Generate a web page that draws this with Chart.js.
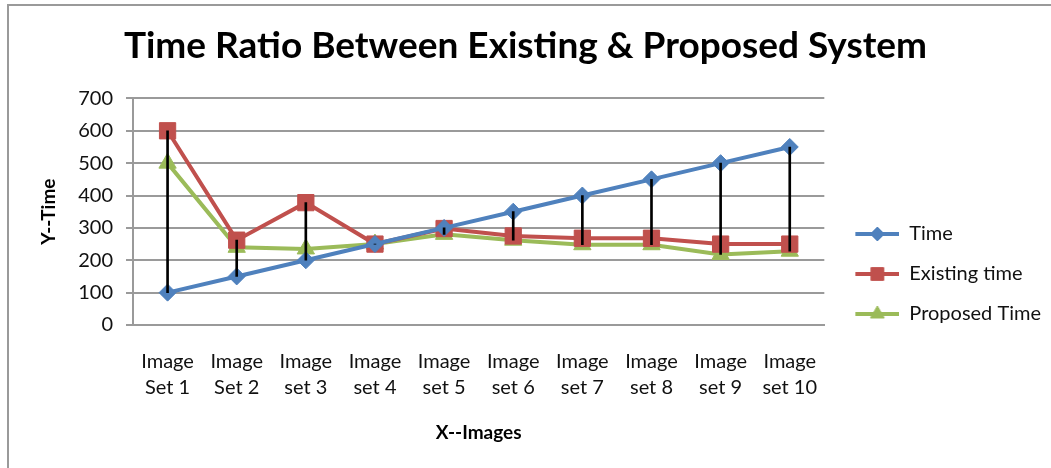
<!DOCTYPE html>
<html>
<head>
<meta charset="utf-8">
<script src="https://cdn.jsdelivr.net/npm/chart.js@4/dist/chart.umd.min.js"></script>
<style>
    html, body { margin: 0; padding: 0; background: #fff; }
    #frame {
        position: absolute; left: 7px; top: 4px; width: 1100px; height: 500px;
        border-left: 2px solid #9a9a9a; border-top: 2px solid #9a9a9a;
    }
    #wrap { position: absolute; left: 0; top: 0; width: 1051px; height: 468px; }
</style>
</head>
<body>
<div id="frame"></div>
<div id="wrap"><canvas id="chart" width="1051" height="468"></canvas></div>
<script>
// Chart data
const categories = [
    ['Image', 'Set 1'], ['Image', 'Set 2'], ['Image', 'set 3'], ['Image', 'set 4'], ['Image', 'set 5'],
    ['Image', 'set 6'], ['Image', 'set 7'], ['Image', 'set 8'], ['Image', 'set 9'], ['Image', 'set 10']
];
const timeValues = [100, 150, 200, 250, 300, 350, 400, 450, 500, 550];
const existingValues = [600, 262, 378, 250, 298, 275, 268, 268, 250, 250];
const proposedValues = [500, 240, 235, 250, 280, 262, 248, 248, 218, 228];
const yTicks = [0, 100, 200, 300, 400, 500, 600, 700];

const FONT = 'Lato, "Open Sans", sans-serif';
const colors = { time: '#4F81BD', existing: '#C0504D', proposed: '#9BBB59' };

// High-low lines: span from lowest to highest series value at each category
const hiLow = categories.map((c, i) => {
    const vals = [timeValues[i], existingValues[i], proposedValues[i]];
    return [Math.min(...vals), Math.max(...vals)];
});

// Small line + marker icons for the legend (line sits in the right 44px)
const ICON_W = 55;
function legendIcon(color, style, radius) {
    const c = document.createElement('canvas');
    c.width = ICON_W; c.height = 20;
    const ctx = c.getContext('2d');
    const x0 = ICON_W - 44;
    ctx.strokeStyle = color;
    ctx.lineWidth = 4;
    ctx.beginPath();
    ctx.moveTo(x0, 10);
    ctx.lineTo(ICON_W, 10);
    ctx.stroke();
    ctx.fillStyle = color;
    ctx.lineWidth = 1;
    Chart.helpers.drawPoint(ctx, { pointStyle: style, radius: radius, borderWidth: 1, rotation: 0 }, x0 + 22, 10);
    return c;
}
const icons = [
    legendIcon(colors.time, 'rectRot', 7),
    legendIcon(colors.existing, 'rect', 9),
    legendIcon(colors.proposed, 'triangle', 8)
];

function lineSet(label, data, color, style, radius) {
    return {
        label: label,
        data: data,
        borderColor: color,
        backgroundColor: color,
        borderWidth: 4,
        pointStyle: style,
        pointRadius: radius,
        pointBorderWidth: 1,
        pointBackgroundColor: color,
        pointBorderColor: color,
        tension: 0,
        order: 1
    };
}

new Chart(document.getElementById('chart'), {
    type: 'line',
    data: {
        labels: categories,
        datasets: [
            lineSet('Time', timeValues, colors.time, 'rectRot', 8.5),
            lineSet('Existing time', existingValues, colors.existing, 'rect', 11.5),
            lineSet('Proposed Time', proposedValues, colors.proposed, 'triangle', 10),
            {
                type: 'bar',
                label: 'hi-low',
                data: hiLow,
                backgroundColor: '#000',
                barThickness: 2,
                order: 0
            }
        ]
    },
    options: {
        responsive: false,
        animation: false,
        layout: { padding: { left: 0, right: 0, top: 0, bottom: 0 } },
        plugins: {
            tooltip: { enabled: false },
            title: {
                display: true,
                text: 'Time Ratio Between Existing & Proposed System',
                color: '#000',
                font: { family: FONT, size: 37, weight: 'bold' },
                padding: { top: 24, bottom: 30 }
            },
            legend: {
                position: 'right',
                title: { display: true, text: '', font: { size: 10 }, padding: { top: 68, bottom: 0 } },
                labels: {
                    usePointStyle: true,
                    pointStyleWidth: ICON_W,
                    padding: 20,
                    color: '#111',
                    font: { family: FONT, size: 20 },
                    filter: item => item.datasetIndex < 3,
                    generateLabels: chart => {
                        const items = Chart.defaults.plugins.legend.labels.generateLabels(chart);
                        items.forEach(it => { if (it.datasetIndex < 3) it.pointStyle = icons[it.datasetIndex]; });
                        return items;
                    }
                }
            }
        },
        scales: {
            x: {
                offset: true,
                afterFit: scale => { scale.height = 143; },
                grid: { display: false, drawTicks: false },
                border: { display: true, color: '#9a9a9a', width: 2 },
                ticks: {
                    color: '#111',
                    padding: 24,
                    maxRotation: 0,
                    autoSkip: false,
                    font: { family: FONT, size: 20, lineHeight: 1.3 }
                },
                title: {
                    display: true,
                    text: 'X--Images',
                    color: '#000',
                    font: { family: FONT, size: 19, weight: 'bold' },
                    padding: { top: 21, bottom: 24 }
                }
            },
            y: {
                min: 0,
                max: 700,
                afterFit: scale => { scale.width = 133; },
                afterBuildTicks: scale => { scale.ticks = yTicks.map(v => ({ value: v })); },
                grid: { color: '#9a9a9a', lineWidth: 2, tickLength: 7 },
                border: { display: true, color: '#9a9a9a', width: 2 },
                ticks: {
                    color: '#111',
                    padding: 13,
                    font: { family: FONT, size: 20 }
                },
                title: {
                    display: true,
                    text: 'Y--Time',
                    color: '#000',
                    font: { family: FONT, size: 19, weight: 'bold' },
                    padding: { top: 37, bottom: 0 }
                }
            }
        }
    }
});
</script>
</body>
</html>
